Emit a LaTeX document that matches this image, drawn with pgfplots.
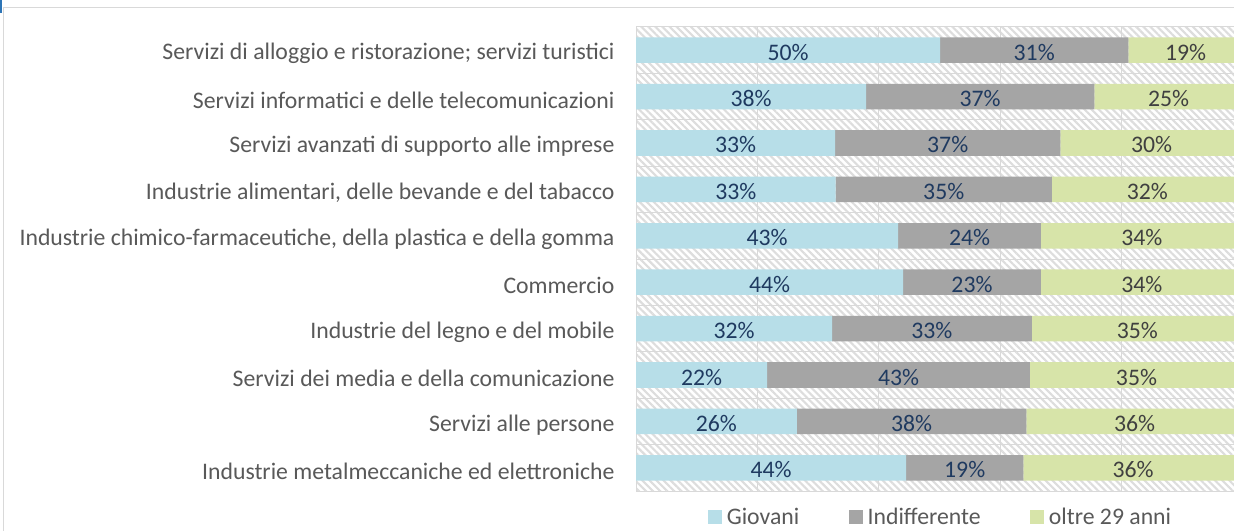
\documentclass[border=0pt]{standalone}
\usepackage{pgfplots}
\pgfplotsset{compat=1.18}
\usepackage{pgfplotstable}
\usepackage{fontspec}
\setmainfont{Carlito}
\usetikzlibrary{patterns.meta}
\definecolor{cblue}{HTML}{B7DEE8}
\definecolor{cgray}{HTML}{A5A5A5}
\definecolor{cgreen}{HTML}{D7E4A9}
\definecolor{navy}{HTML}{1F3A60}
\definecolor{dgray}{HTML}{404040}
\definecolor{lgray}{HTML}{D9D9D9}
\definecolor{hgray}{HTML}{DDDDDD}
\definecolor{tgray}{HTML}{595959}
\definecolor{selblue}{HTML}{2E75B6}

\pgfplotstableread{
y g i o gl il ol
0 50.1 31.0 18.9 50 31 19
1 37.9 37.6 24.5 38 37 25
2 32.8 37.1 30.1 33 37 30
3 32.9 35.6 31.5 33 35 32
4 43.2 23.5 33.3 43 24 34
5 44.0 22.7 33.3 44 23 34
6 32.3 32.9 34.8 32 33 35
7 21.6 43.3 35.1 22 43 35
8 26.5 37.8 35.7 26 38 36
9 44.5 19.3 36.2 44 19 36
}\data

\newcommand{\lblfont}{\fontsize{17.8}{20}\selectfont}

\begin{document}
\begin{tikzpicture}
\begin{scope}
\clip (0,0) rectangle (925.5pt,-398.25pt);
\fill[white] (0,0) rectangle (925.5pt,-398.25pt);
\draw[lgray, line width=0.75pt] (2.25pt,-6pt) rectangle (940pt,-410pt);
\fill[selblue] (0,0) rectangle (1.6pt,-10pt);
\begin{axis}[
  at={(477pt,-368.25pt)}, anchor=south west,
  scale only axis, width=455.25pt, height=348pt,
  xbar stacked, bar width=0.55,
  xmin=0, xmax=100, ymin=-0.5, ymax=9.5, y dir=reverse,
  xtick={20,40,60,80}, xticklabels={},
  xmajorgrids, major grid style={lgray, line width=0.75pt},
  ytick={0,...,9},
  yticklabels={Servizi di alloggio e ristorazione; servizi turistici,
    Servizi informatici e delle telecomunicazioni,
    Servizi avanzati di supporto alle imprese,
    {Industrie alimentari, delle bevande e del tabacco},
    {Industrie chimico-farmaceutiche, della plastica e della gomma},
    Commercio,
    Industrie del legno e del mobile,
    Servizi dei media e della comunicazione,
    Servizi alle persone,
    Industrie metalmeccaniche ed elettroniche},
  minor ytick={0.5,1.5,...,8.5}, yminorgrids,
  minor grid style={lgray, line width=0.75pt},
  major tick length=0pt, minor tick length=0pt,
  axis line style={lgray, line width=0.75pt},
  axis background/.style={pattern={Lines[angle=-45,distance=3.75pt,line width=1.6pt]}, pattern color=hgray},
  yticklabel style={font=\lblfont, text=tgray, inner sep=0pt, xshift=-16pt, yshift=-2.5pt},
  legend columns=3,
  legend image code/.code={\fill[#1] (0pt,-5.25pt) rectangle (10.5pt,5.25pt);},
  legend style={at={(0.5,-0.057)}, anchor=center, draw=none, fill=none,
    font=\lblfont, text=tgray, inner sep=0pt, nodes={inner sep=0pt},
    /tikz/every odd column/.append style={column sep=3.75pt},
    /tikz/every even column/.append style={column sep=37pt}},
  point meta=explicit symbolic,
  nodes near coords={\pgfplotspointmeta\%},
  nodes near coords style={font=\lblfont, anchor=center, yshift=-1.5pt},
]
\addplot[fill=cblue, draw=none,
  every node near coord/.append style={text=navy}]
  table[x=g, y=y, meta=gl]{\data};
\addplot[fill=cgray, draw=none,
  every node near coord/.append style={text=navy}]
  table[x=i, y=y, meta=il]{\data};
\addplot[fill=cgreen, draw=none,
  every node near coord/.append style={text=dgray}]
  table[x=o, y=y, meta=ol]{\data};
\legend{Giovani, Indifferente, oltre 29 anni}
\end{axis}
\end{scope}
\pgfresetboundingbox
\useasboundingbox (0,0) rectangle (925.5pt,-398.25pt);
\end{tikzpicture}
\end{document}
